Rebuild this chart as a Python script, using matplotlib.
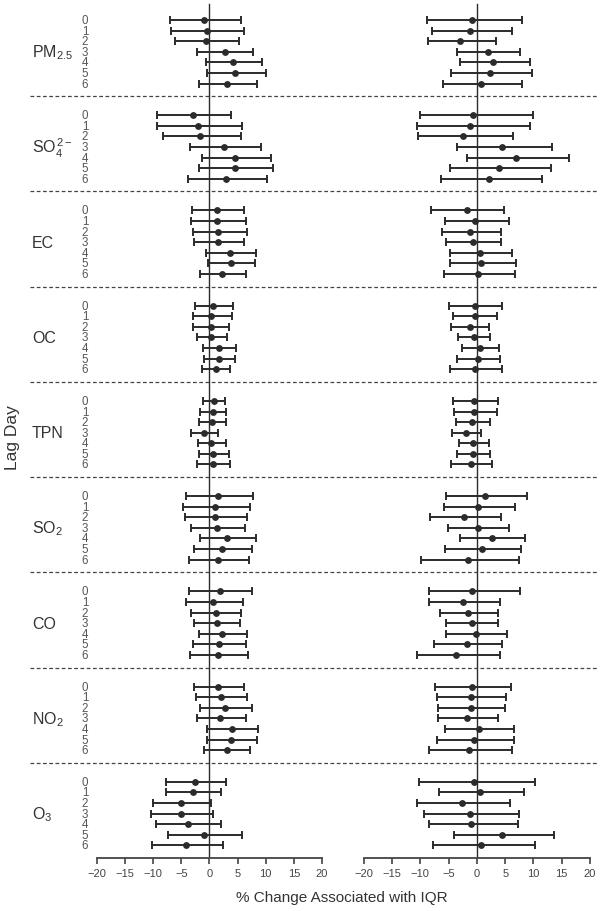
import matplotlib
matplotlib.use('Agg')
import matplotlib.pyplot as plt
import matplotlib.transforms as mtransforms
import numpy as np

plt.rcParams['font.family'] = ['Liberation Sans', 'DejaVu Sans']
plt.rcParams['mathtext.fontset'] = 'custom'
plt.rcParams['mathtext.rm'] = 'Liberation Sans'
plt.rcParams['mathtext.it'] = 'Liberation Sans:italic'
plt.rcParams['mathtext.bf'] = 'Liberation Sans:bold'

# pollutant groups, top to bottom
pollutants = [r'PM$_{\mathrm{2.5}}$', r'SO$_{\mathrm{4}}^{\mathrm{\,2-}}$', 'EC', 'OC', 'TPN',
              r'SO$_{\mathrm{2}}$', 'CO', r'NO$_{\mathrm{2}}$', r'O$_{\mathrm{3}}$']
lags = [0, 1, 2, 3, 4, 5, 6]

# left panel: estimate, lower CI, upper CI (one row per pollutant, lag 0..6)
left_est = [
    [-1.0, -0.5, -0.6, 2.7, 4.1, 4.6, 3.2],
    [-2.9, -2.0, -1.6, 2.6, 4.6, 4.6, 3.0],
    [1.4, 1.4, 1.6, 1.6, 3.7, 3.8, 2.3],
    [0.7, 0.3, 0.2, 0.3, 1.7, 1.7, 1.1],
    [0.8, 0.6, 0.5, -1.0, 0.3, 0.6, 0.6],
    [1.6, 1.0, 0.9, 1.4, 3.1, 2.3, 1.6],
    [1.8, 0.6, 1.1, 1.3, 2.2, 1.7, 1.6],
    [1.6, 2.1, 2.8, 1.9, 4.0, 3.8, 3.1],
    [-2.6, -3.0, -5.1, -5.1, -3.9, -1.0, -4.2],
]
left_lo = [
    [-7.0, -6.8, -6.1, -2.2, -0.7, -0.4, -1.8],
    [-9.3, -9.3, -8.2, -3.5, -1.4, -1.8, -3.9],
    [-3.1, -3.3, -3.0, -2.7, -0.7, -0.2, -1.6],
    [-2.6, -3.0, -2.9, -2.2, -1.1, -1.0, -1.4],
    [-1.2, -1.6, -1.8, -3.3, -2.0, -1.9, -2.2],
    [-4.2, -4.7, -4.3, -3.2, -1.7, -2.7, -3.6],
    [-3.6, -4.2, -3.2, -2.7, -1.9, -2.9, -3.4],
    [-2.7, -2.4, -1.7, -2.2, -0.5, -0.5, -0.9],
    [-7.8, -7.8, -10.0, -10.4, -9.5, -7.4, -10.3],
]
left_hi = [
    [5.6, 6.2, 5.2, 7.8, 9.4, 10.0, 8.5],
    [3.9, 5.8, 5.6, 9.2, 11.0, 11.3, 10.3],
    [6.1, 6.5, 6.6, 6.1, 8.3, 8.1, 6.5],
    [4.2, 4.0, 3.4, 3.1, 4.7, 4.6, 3.7],
    [2.8, 2.9, 3.0, 1.5, 3.0, 3.4, 3.6],
    [7.7, 7.2, 6.6, 6.3, 8.2, 7.6, 7.1],
    [7.6, 5.9, 5.6, 5.4, 6.6, 6.5, 6.9],
    [6.2, 6.7, 7.6, 6.5, 8.7, 8.5, 7.2],
    [3.0, 2.1, 0.2, 0.6, 2.1, 5.8, 2.4],
]

# right panel
right_est = [
    [-0.9, -1.2, -2.9, 1.9, 2.9, 2.4, 0.7],
    [-0.6, -1.2, -2.4, 4.5, 6.9, 3.9, 2.1],
    [-1.8, -0.3, -1.2, -0.7, 0.6, 0.8, 0.2],
    [-0.4, -0.4, -1.3, -0.5, 0.6, 0.2, -0.4],
    [-0.5, -0.5, -0.8, -1.9, -0.7, -0.7, -1.1],
    [1.5, 0.2, -2.2, 0.2, 2.6, 0.9, -1.6],
    [-0.8, -2.4, -1.5, -0.9, -0.2, -1.8, -3.7],
    [-0.9, -1.1, -1.1, -1.7, 0.3, -0.5, -1.4],
    [-0.5, 0.5, -2.7, -1.3, -1.0, 4.4, 0.8],
]
right_lo = [
    [-8.8, -8.0, -8.7, -3.5, -3.0, -4.5, -6.0],
    [-10.0, -10.5, -10.4, -3.6, -1.7, -4.7, -6.4],
    [-8.1, -5.7, -6.2, -5.4, -4.7, -4.8, -5.9],
    [-4.9, -4.2, -4.6, -3.4, -2.6, -3.5, -4.7],
    [-4.3, -4.0, -3.7, -4.4, -3.2, -3.5, -4.5],
    [-5.4, -5.8, -8.2, -5.1, -3.0, -5.6, -9.8],
    [-8.4, -8.4, -6.5, -5.4, -5.4, -7.5, -10.5],
    [-7.4, -7.0, -6.8, -6.8, -5.7, -7.1, -8.4],
    [-10.3, -6.7, -10.5, -9.4, -8.5, -4.1, -7.8],
]
right_hi = [
    [7.9, 6.2, 3.3, 7.7, 9.3, 9.7, 7.9],
    [9.9, 9.3, 6.4, 13.3, 16.2, 13.1, 11.5],
    [4.8, 5.6, 4.3, 4.3, 6.2, 6.9, 6.8],
    [4.5, 3.6, 2.2, 2.4, 3.9, 4.1, 4.5],
    [3.7, 3.5, 2.3, 0.8, 2.1, 2.3, 2.7],
    [8.9, 6.8, 4.2, 5.7, 8.5, 7.8, 7.5],
    [7.6, 4.1, 3.7, 3.8, 5.3, 4.5, 4.0],
    [6.0, 5.1, 5.0, 3.8, 6.6, 6.5, 6.2],
    [10.3, 8.4, 5.9, 7.5, 7.2, 13.7, 10.2],
]

xticks = [-20, -15, -10, -5, 0, 5, 10, 15, 20]

dark = '#2b2b2b'
group_size = 9
first_row = 1.8

fig = plt.figure(figsize=(6.04, 9.12), dpi=100)
ax1 = fig.add_axes([0.1606, 0.0581, 0.3725, 0.9397])
ax2 = fig.add_axes([0.6022, 0.0581, 0.3747, 0.9397])

n_groups = len(pollutants)
ylim = (n_groups * group_size, 0)


def draw_panel(ax, est, lo, hi):
    for g in range(n_groups):
        y = [g * group_size + first_row + k for k in lags]
        e = np.array(est[g])
        err = [e - np.array(lo[g]), np.array(hi[g]) - e]
        ax.errorbar(e, y, xerr=err, fmt='o', color=dark, ecolor=dark,
                    elinewidth=1.4, capsize=3.2, capthick=1.4, markersize=3.9, zorder=3)
    ax.axvline(0, ymin=0, ymax=0.996, color=dark, lw=1.0, zorder=2)
    ax.set_xlim(-20, 20)
    ax.set_ylim(*ylim)
    ax.set_xticks(xticks)
    ax.set_xticklabels([str(t).replace('-', '\u2212') for t in xticks])
    ax.set_yticks([])
    for s in ['left', 'right', 'top']:
        ax.spines[s].set_visible(False)
    ax.spines['bottom'].set_color('#444444')
    ax.spines['bottom'].set_linewidth(1.3)
    ax.spines['bottom'].set_bounds(-20, 20)
    ax.tick_params(axis='x', direction='out', length=4, width=1.2, color='#444444',
                   labelsize=8, labelcolor='#444444', pad=3)
    ax.patch.set_alpha(0)


draw_panel(ax1, left_est, left_lo, left_hi)
draw_panel(ax2, right_est, right_lo, right_hi)

# dashed separators spanning both panels
trans = mtransforms.blended_transform_factory(fig.transFigure, ax1.transData)
for g in range(1, n_groups):
    yy = g * group_size
    ax1.plot([0.05, 0.99], [yy, yy], transform=trans, color='#444444', lw=0.9,
             ls=(0, (3, 2)), clip_on=False, zorder=1)

# group names and lag labels
for g, name in enumerate(pollutants):
    ax1.text(0.053, g * group_size + first_row + 3, name, transform=trans,
             ha='left', va='center', fontsize=11.5, color='#333333')
    for k in lags:
        ax1.text(0.1407, g * group_size + first_row + k, str(k), transform=trans,
                 ha='center', va='center', fontsize=8.3, color='#555555')

fig.text(0.02, 0.52, 'Lag Day', rotation=90, ha='center', va='center',
         fontsize=12.5, color='#333333')
fig.text(0.566, 0.015, '% Change Associated with IQR', ha='center', va='center',
         fontsize=11, color='#333333')

fig.savefig('out.png', dpi=100)
